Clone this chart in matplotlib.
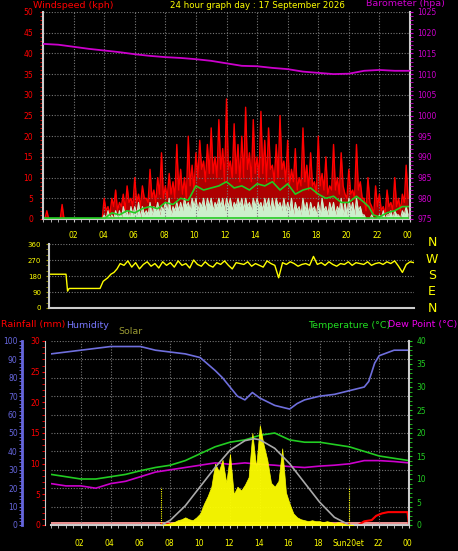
import matplotlib
matplotlib.use("Agg")
import matplotlib.pyplot as plt
import numpy as np
from matplotlib.ticker import MultipleLocator

W, H = 458, 551
fig = plt.figure(figsize=(W/100, H/100), dpi=100, facecolor="black")

def axpx(l, t, r, b):
    a = fig.add_axes([l/W, 1-b/H, (r-l)/W, (b-t)/H])
    a.set_facecolor("black")
    return a

# ---------------- data ----------------
baro_t = [0,1,2,3,4,5,6,7,8,9,10,11,12,13,14,15,16,17,18,19,20,21,22,23,24]
baro = [1017.3,1017.1,1016.6,1016.1,1015.7,1015.3,1014.8,1014.4,1014.1,1013.9,1013.6,1013.2,
        1012.6,1012.0,1011.9,1011.5,1011.2,1010.6,1010.3,1010.0,1010.1,1010.8,1011.0,1010.8,1010.8]

gust = [0,2,0,0, 0,3.5,0,0, 0,0,0,0, 0,0,0,0,
        5,3,5,7, 4,6,8,5, 10,6,8,5, 12,7,10,16, 8,11,9,18, 12,10,20,13,
        16,19,14,18, 22,15,24,17, 29,14,23,18, 20,27,16,24, 15,26,19,22,
        13,18,25,14, 19,12,17,10, 22,13,16,9, 20,11,15,8, 18,10,16,6,
        12,7,18,9, 5,10,3,8, 6,3,7,4, 10,5,6,13]
gust_low = [0,0,0,0, 0,0,0,0, 0,0,0,0, 0,0,0,0,
        2,1,3,2, 3,2,4,3, 4,3,5,4, 5,4,6,5, 5,6,5,7, 6,5,8,7,
        10,12,9,11, 11,10,12,9, 12,10,11,9, 10,12,9,11, 10,11,9,12,
        9,10,12,9, 8,9,7,8, 9,7,8,6, 8,7,6,7, 7,6,8,5,
        6,5,7,5, 2,4,1,3, 2,1,3,2, 3,2,4,5]
avg_hi = [0,0,0,0, 0,0,0,0, 0,0,0,0, 0,0,0,0,
        1,2,1,2, 2,3,2,3, 3,4,3,2, 4,3,4,3, 4,5,3,4, 4,5,4,5,
        5,4,5,5, 5,4,5,5, 5,5,4,5, 5,5,4,5, 5,4,5,5,
        5,5,4,5, 4,5,4,3, 5,4,4,3, 4,5,3,4, 4,3,5,4,
        5,4,5,3, 1,0,1,0, 1,2,1,2, 2,1,2,3]
avg_lo = [0,0,0,0, 0,0,0,0, 0,0,0,0, 0,0,0,0,
        0,0,0,0, 0,1,0,1, 1,0,1,1, 1,2,1,2, 2,1,2,2, 2,3,2,3,
        2,3,2,3, 2,3,3,2, 3,2,3,3, 2,3,2,3, 3,2,3,2,
        2,3,2,2, 2,1,2,1, 2,1,2,1, 1,2,1,2, 1,2,1,1,
        2,1,2,1, 0,0,0,0, 0,0,1,0, 1,0,1,1]
wavg_t = [0,4,4.5,5,5.5,6,6.5,7,7.5,8,8.5,9,9.5,10,10.5,11,11.5,12,12.5,13,13.5,14,14.5,15,15.5,
          16,16.5,17,17.5,18,18.5,19,19.5,20,20.5,21,21.3,21.6,22,22.5,23,23.5,24]
wavg = [0,0,1.5,1,2,1.5,2.5,3,2.5,4,3.5,5,4.5,8,7,7.5,8,9,7.5,8,7,8.5,8,9,7,
        8.5,6,7,7.5,6,5,5.5,4,4,5.5,4,3,1,0.5,1.5,2,3,3]

dir_t = [0,1.5,1.6,1.7,3.7,3.9,4.2,4.4,4.6,4.8] + list(np.arange(5, 24.01, 0.25))
wdir = [190,190,95,110,110,150,170,190,200,220] + [
    250,240,265,230,255,220,245,260, 235,250,225,260,240,255,230,265, 240,250,225,270,245,235,260,240,
    230,255,245,265,240,220,255,250, 245,260,235,250,240,230,265,250, 240,170,255,245,260,250,235,245,
    250,240,290,245,255,240,260,245, 235,250,245,260,240,255,250,245, 260,240,250,255,245,260,250,265,
    235,200,245,260,255]

hum_t = [0,1,2,3,4,5,6,7,8,9,10,11,11.5,12,12.5,13,13.5,14,14.5,15,15.5,16,16.5,17,18,19,20,21,21.3,21.7,22,23,24]
hum = [93,94,95,96,97,97,97,95,94,93,91,84,80,75,70,68,72,69,67,65,64,63,66,68,70,71,73,75,78,88,92,95,95]
tmp_t = list(range(25))
temp = [11,10.5,10,10,10.5,11,11.8,12.5,13,14,15.5,17,18,18.5,19.5,20,18.5,18,18,17.5,17,16,15,14.5,14]
dew = [9,8.5,8.5,8,9,9.5,10.5,11.5,12,12.5,13,13.5,13.2,13.5,13.2,13,12.7,12.5,12.8,13,13.3,14,14,13.8,13.5]
sol_t = list(np.arange(7.5, 20.26, 0.25))
solar = [0,5,10,15,25,30,40,30,25,40,60,110,150,200,320,280,340,220,370,160,200,180,210,250,480,300,
         520,420,340,220,200,230,400,170,110,60,40,30,25,20,25,20,20,15,20,15,10,15,10,5,3,0]
smax_t = [7.4,8,9,10,11,12,13,13.6,14,15,16,17,18,19,20]
smax = [0,25,100,200,300,390,440,450,445,400,320,220,120,40,0]
rain_t = [0,20.6,20.8,21,21.5,21.8,22.2,22.6,23.9,24]
rain = [0,0,0.3,0.6,0.8,1.5,1.9,2.1,2.1,0]

hours = list(range(2, 25, 2))
hour_lbl = ["02","04","06","08","10","12","14","16","18","20","22","00"]

GRID = dict(color="#777777", linestyle=(0, (1, 1.5)), linewidth=0.8)
FS = 5.5
LFS = 6.8

def zig(a, b):
    t, v = [], []
    for i, (x, y) in enumerate(zip(a, b)):
        t += [i*0.25, i*0.25 + 0.125]
        v += [x, y]
    return t, v

# ---------------- top panel ----------------
ax = axpx(43, 12, 410, 219)
ax.set_xlim(0, 24); ax.set_ylim(0, 50)
ax.grid(True, **GRID)
ax.set_xticks(hours); ax.set_xticklabels([])
ax.xaxis.set_minor_locator(MultipleLocator(0.5))
ax.tick_params(axis="x", which="both", colors="#cccccc", length=2)
ax.set_yticks(range(0, 51, 5))
ax.yaxis.set_minor_locator(MultipleLocator(1))
ax.tick_params(axis="y", which="both", colors="red", labelcolor="red", labelsize=FS, length=2, pad=5)
for s in ax.spines.values(): s.set_color("#cccccc")
ax.spines["left"].set_linewidth(1.5); ax.spines["right"].set_linewidth(1.5)
ax.spines["top"].set_visible(False)
gt, gv = zig(gust, gust_low)
ax.fill_between(gt, 0, gv, color="#cc0000", lw=0, alpha=0.85)
ax.plot(gt, gv, color="red", lw=1.0)
at, av = zig(avg_hi, avg_lo)
ax.fill_between(at, 0, av, color="#ccf0cc", lw=0)
ax.plot(at, av, color="#ccf0cc", lw=0.8)
ax.plot(wavg_t, wavg, color="#22cc22", lw=1.2)
ax.axhline(0.2, color="#22cc22", lw=1.2)
bx = ax.twinx(); bx.set_ylim(975, 1025)
bx.set_yticks(range(975, 1026, 5))
bx.yaxis.set_minor_locator(MultipleLocator(1))
bx.tick_params(axis="y", which="both", colors="#cc00cc", labelcolor="#cc00cc", labelsize=FS, length=2)
for s in bx.spines.values(): s.set_visible(False)
bx.plot(baro_t, baro, color="#cc00cc", lw=1.3)
fig.text(33/W, 1-6/H, "Windspeed (kph)", color="red", fontsize=LFS, va="center")
fig.text(170/W, 1-5/H, "24 hour graph day : 17 September 2026", color="yellow", fontsize=6.2, va="center")
fig.text(366/W, 1-4/H, "Barometer (hpa)", color="#cc00cc", fontsize=LFS, va="center")
for h, l in zip(hours, hour_lbl):
    fig.text((42.5 + h*15.2)/W, 1-235/H, l, color="yellow", fontsize=FS, ha="center", va="center")

# ---------------- middle panel ----------------
am = axpx(49, 244, 414, 308)
am.set_xlim(0.4, 24); am.set_ylim(0, 360)
am.set_yticks([0, 90, 180, 270, 360])
am.yaxis.grid(True, **GRID)
am.set_xticks([])
am.yaxis.set_minor_locator(MultipleLocator(30))
am.tick_params(axis="y", which="both", colors="#999900", labelcolor="yellow", labelsize=5, length=2)
for s in am.spines.values(): s.set_visible(False)
am.spines["left"].set_visible(True); am.spines["left"].set_color("#cccccc"); am.spines["left"].set_linewidth(1.5)
am.spines["bottom"].set_visible(True); am.spines["bottom"].set_color("#cccccc"); am.spines["bottom"].set_linewidth(1.5)
am.plot(dir_t, wdir, color="yellow", lw=1)
for i, c in enumerate("NWSEN"):
    fig.text(432/W, 1-(243 + i*16.3)/H, c, color="yellow", fontsize=9, ha="center", va="center")

# ---------------- bottom panel ----------------
ab = axpx(51, 341, 409, 525)
ab.set_xlim(0, 24); ab.set_ylim(0, 30)
ab.set_xticks(hours); ab.set_xticklabels([])
ab.xaxis.set_minor_locator(MultipleLocator(0.5))
ab.tick_params(axis="x", which="both", colors="#cccccc", length=2)
ab.set_yticks(range(0, 31, 5))
ab.yaxis.set_minor_locator(MultipleLocator(1))
ab.tick_params(axis="y", which="both", colors="red", labelcolor="red", labelsize=FS, length=2, pad=2)
ab.spines["left"].set_position(("outward", 4))
ab.spines["left"].set_color("#cccccc")
for k in ("top", "right"): ab.spines[k].set_visible(False)
ab.spines["bottom"].set_color("#cccccc"); ab.spines["bottom"].set_linewidth(1.5)
ab.xaxis.grid(True, **GRID)
hx = ab.twinx(); hx.set_ylim(0, 100)
hx.yaxis.tick_left(); hx.yaxis.set_label_position("left")
hx.spines["left"].set_position(("outward", 21))
hx.spines["left"].set_color("#6666dd"); hx.spines["left"].set_linewidth(2)
for k in ("top", "right", "bottom"): hx.spines[k].set_visible(False)
hx.set_yticks(range(0, 101, 10))
hx.yaxis.set_minor_locator(MultipleLocator(2))
hx.tick_params(axis="y", which="both", colors="#6666dd", labelcolor="#6666dd", labelsize=FS, length=2, pad=1)
hx.yaxis.grid(True, **GRID)
tx = ab.twinx(); tx.set_ylim(0, 40)
tx.set_yticks(range(0, 41, 5))
tx.yaxis.set_minor_locator(MultipleLocator(1))
tx.tick_params(axis="y", which="both", colors="#22cc22", labelcolor="#22cc22", labelsize=FS, length=2)
for k in ("top", "left", "bottom"): tx.spines[k].set_visible(False)
tx.spines["right"].set_color("#cccccc"); tx.spines["right"].set_linewidth(1.5)
sx = ab.twinx(); sx.set_ylim(0, 960); sx.axis("off")
sx.fill_between(sol_t, 0, solar, color="yellow", lw=0.5, alpha=0.95)
sx.plot(smax_t, smax, color="#aaaaaa", lw=1.2)
for xs in (7.4, 20.0):
    sx.plot([xs, xs], [0, 200], color="yellow", lw=0.8, linestyle=(0, (1, 1)))
hx.plot(hum_t, hum, color="#6f6fdd", lw=1.2)
tx.plot(tmp_t, temp, color="#22cc22", lw=1.2)
tx.plot(tmp_t, dew, color="#cc00cc", lw=1.2)
ab.fill_between([0, 24], 0, 0.5, color="#e89090", lw=0)
ab.plot(rain_t, rain, color="red", lw=1.5)
ab.plot([7.4, 20], [0.2, 0.2], color="red", lw=1.5)
for h, l in zip(hours, hour_lbl):
    if l == "20":
        l = "Sun20et"
    fig.text((50 + h*14.9)/W, 1-543/H, l, color="yellow", fontsize=FS, ha="center", va="center")
fig.text(1/W, 1-325/H, "Rainfall (mm)", color="red", fontsize=LFS, va="center")
fig.text(66/W, 1-325/H, "Humidity", color="#7777ff", fontsize=LFS, va="center")
fig.text(118/W, 1-332/H, "Solar", color="#999933", fontsize=LFS, va="center")
fig.text(308/W, 1-325/H, "Temperature (°C)", color="#22dd22", fontsize=LFS, va="center")
fig.text(457/W, 1-325/H, "Dew Point (°C)", color="#ee00ee", fontsize=LFS, va="center", ha="right")

fig.savefig("out.png", dpi=100, facecolor="black")
